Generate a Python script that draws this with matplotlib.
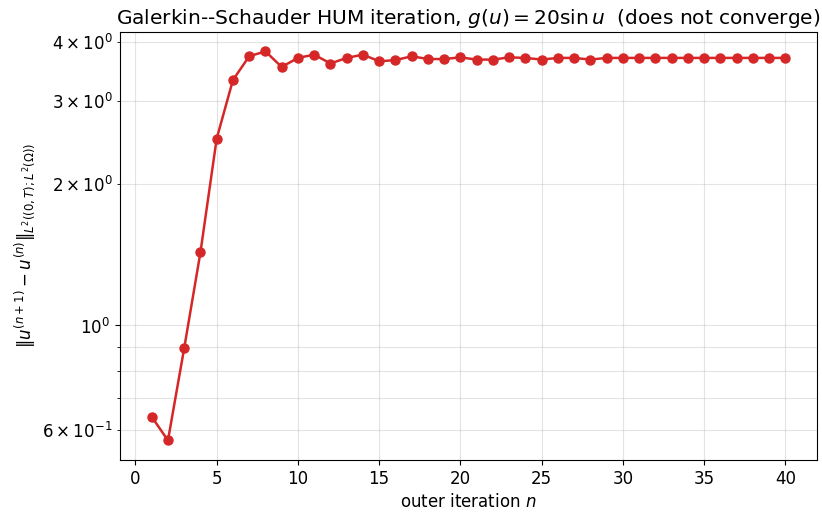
import matplotlib
matplotlib.use("Agg")
from matplotlib import pyplot as plt

# outer iteration index and increment norms
iters = list(range(1, 41))
diffs = [0.640, 0.570, 0.895, 1.430, 2.494, 3.32, 3.73, 3.82, 3.54, 3.70,
         3.76, 3.60, 3.70, 3.76, 3.64, 3.66, 3.73, 3.68, 3.68, 3.71,
         3.67, 3.67, 3.71, 3.70, 3.67, 3.70, 3.70, 3.67, 3.70, 3.70,
         3.70, 3.70, 3.70, 3.70, 3.70, 3.70, 3.70, 3.70, 3.70, 3.70]


def make_figure():
    fig, ax = plt.subplots(figsize=(8.22, 5.15), dpi=100)
    fig.subplots_adjust(left=0.146, right=0.994, top=0.938, bottom=0.107)
    ax.semilogy(iters, diffs, 'o-', color='#d62728', lw=1.8, ms=6.5)
    ax.grid(True, which='both', color='#b0b0b0', alpha=0.35, lw=0.8)
    ax.set_xlabel(r'outer iteration $n$', fontsize=12)
    ax.set_ylabel(r'$\|u^{(n+1)}-u^{(n)}\|_{L^2((0,T);L^2(\Omega))}$', fontsize=12)
    ax.set_title(r'Galerkin--Schauder HUM iteration, $g(u)=20\sin u$  (does not converge)',
                 fontsize=14.5)
    ax.tick_params(which='both', labelsize=12)
    return fig


fig = make_figure()
fig.savefig('out.png', dpi=100)
plt.close(fig)
